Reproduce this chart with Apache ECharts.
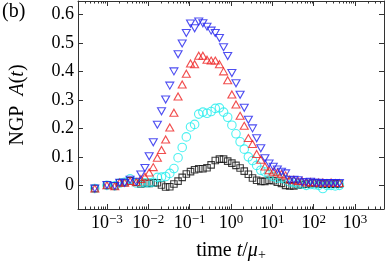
<!DOCTYPE html>
<html><head><meta charset="utf-8">
<script src="https://cdn.jsdelivr.net/npm/echarts@6/dist/echarts.min.js"></script>
<style>html,body{margin:0;padding:0;background:#fff}#c{width:387px;height:267px}</style>
</head><body><div id="c"></div>
<script>
const times = [0.00051, 0.001, 0.00155, 0.00204, 0.00269, 0.00363, 0.00513, 0.0066, 0.0083, 0.0105, 0.0132, 0.0166, 0.0209, 0.0263, 0.0331, 0.0417, 0.0525, 0.0661, 0.0832, 0.105, 0.132, 0.166, 0.209, 0.263, 0.331, 0.417, 0.525, 0.661, 0.832, 1.05, 1.32, 1.66, 2.09, 2.63, 3.31, 4.17, 5.25, 6.61, 8.32, 10.5, 13.2, 16.6, 20.9, 26.3, 33.1, 41.7, 52.5, 66.1, 83.2, 105, 132, 166, 209, 263, 331, 417];
const blackSq = [-0.011, 0.001, -0.002, 0.009, 0.01, 0.016, 0.011, 0.005, 0.008, 0.007, 0.009, 0.009, 0.001, -0.006, -0.005, 0.005, 0.015, 0.028, 0.04, 0.048, 0.055, 0.058, 0.058, 0.062, 0.072, 0.087, 0.092, 0.092, 0.085, 0.078, 0.07, 0.061, 0.05, 0.039, 0.026, 0.018, 0.014, 0.014, 0.018, 0.016, 0.011, 0.007, 0.0, -0.002, -0.002, 0.001, 0.003, 0.004, 0.006, 0.008, 0.005, 0.005, 0.004, 0.004, 0.005, 0.005];
const cyanCirc = [-0.011, 0.0, -0.002, 0.008, 0.011, 0.023, 0.008, 0.009, 0.009, 0.009, 0.011, 0.028, 0.029, 0.031, 0.042, 0.059, 0.097, 0.133, 0.17, 0.205, 0.214, 0.25, 0.257, 0.253, 0.259, 0.27, 0.272, 0.257, 0.239, 0.211, 0.181, 0.153, 0.127, 0.10, 0.087, 0.07, 0.053, 0.047, 0.037, 0.031, 0.025, 0.025, 0.02, 0.012, 0.01, 0.005, 0.005, 0.0, 0.003, 0.002, 0.0, -0.011, 0.0, 0.0, -0.002, 0.0];
const redUp = [-0.011, 0.0, -0.003, 0.01, 0.009, 0.015, 0.011, 0.022, 0.03, 0.045, 0.064, 0.097, 0.124, 0.161, 0.203, 0.255, 0.312, 0.354, 0.392, 0.428, 0.425, 0.455, 0.455, 0.441, 0.438, 0.438, 0.425, 0.40, 0.369, 0.319, 0.284, 0.244, 0.209, 0.166, 0.145, 0.11, 0.09, 0.066, 0.053, 0.048, 0.045, 0.04, 0.035, 0.02, 0.02, 0.015, 0.015, 0.01, 0.012, 0.01, 0.01, 0.01, 0.008, 0.01, 0.008, 0.008];
const blueDown = [-0.011, 0.001, -0.002, 0.009, 0.009, 0.02, 0.013, 0.038, 0.061, 0.102, 0.151, 0.213, 0.26, 0.301, 0.35, 0.40, 0.46, 0.498, 0.535, 0.568, 0.551, 0.575, 0.569, 0.557, 0.543, 0.535, 0.517, 0.485, 0.454, 0.394, 0.358, 0.318, 0.272, 0.23, 0.20, 0.165, 0.13, 0.095, 0.077, 0.065, 0.056, 0.048, 0.042, 0.018, 0.02, 0.018, 0.011, 0.011, 0.013, 0.009, 0.009, 0.008, 0.008, 0.008, 0.008, 0.008];
const yTickLabels = ['0', '0.1', '0.2', '0.3', '0.4', '0.5', '0.6'];
const xTickExponents = [-3, -2, -1, 0, 1, 2, 3];

const X_MIN = 2e-4, X_MAX = 5e3, Y_MIN = -0.083, Y_MAX = 0.647;
const FONT = 'Liberation Serif';
const AX = '#333';
const FS = 18, FN = 20;

const minorTicks = [];
for (let e = -4; e <= 3; e++) {
  for (let m = 2; m <= 9; m++) {
    const v = m * Math.pow(10, e);
    if (v > X_MIN && v < X_MAX) minorTicks.push([v, 0]);
  }
}

function pairs(arr) { return times.map((t, i) => [t, arr[i]]); }
function mk(name, data, symbol, color, size, rot) {
  return {
    name, type: 'scatter', data: pairs(data), symbol, symbolSize: size, symbolRotate: rot || 0,
    itemStyle: { color: 'rgba(255,255,255,0)', borderColor: color, borderWidth: 1.1 },
    silent: true, z: 3
  };
}

const chart = echarts.init(document.getElementById('c'), null, { renderer: 'canvas' });
const xFmt = v => {
  const e = Math.round(Math.log10(v));
  if (Math.abs(Math.log10(v) - e) > 1e-6 || xTickExponents.indexOf(e) < 0) return '';
  return '{b|10}{s|' + (e < 0 ? '\u2212' + (-e) : e) + '}';
};
const yFmt = v => {
  const k = Math.round(v * 10);
  if (Math.abs(v * 10 - k) > 1e-6 || k < 0 || k >= yTickLabels.length) return '';
  return yTickLabels[k];
};
const axLine = { show: true, onZero: false, lineStyle: { color: AX, width: 1 } };
chart.setOption({
  animation: false,
  backgroundColor: '#fff',
  grid: { left: 71, right: 3, top: 1, bottom: 46, containLabel: false },
  graphic: [{ type: 'text', left: 2, top: 2, style: { text: '(b)', font: FN + 'px "' + FONT + '"', fill: '#000' } }],
  xAxis: [
    { type: 'log', logBase: 10, min: X_MIN, max: X_MAX, splitNumber: 8, position: 'bottom',
      axisLine: axLine, splitLine: { show: false },
      axisTick: { inside: true, length: 5, lineStyle: { color: AX } },
      axisLabel: { formatter: xFmt, margin: 4, showMinLabel: false, showMaxLabel: false,
        rich: { b: { fontFamily: FONT, fontSize: FS, color: '#000', lineHeight: 20 },
                s: { fontFamily: FONT, fontSize: 13, color: '#000', lineHeight: 7, verticalAlign: 'top' } } },
      name: '{r|time }{i|t}{r|/}{i|\u03bc}{u|+}', nameLocation: 'middle', nameGap: 31,
      nameTextStyle: { rich: { r: { fontFamily: FONT, fontSize: FN, color: '#000', lineHeight: 22 },
        i: { fontFamily: FONT, fontSize: FN, fontStyle: 'italic', color: '#000', lineHeight: 22 },
        u: { fontFamily: FONT, fontSize: 14, color: '#000', lineHeight: 10, verticalAlign: 'bottom' } } } },
    { type: 'log', logBase: 10, min: X_MIN, max: X_MAX, splitNumber: 8, position: 'top',
      axisLine: axLine, splitLine: { show: false },
      axisTick: { inside: true, length: 5, lineStyle: { color: AX } }, axisLabel: { show: false } }
  ],
  yAxis: [
    { type: 'value', min: Y_MIN, max: Y_MAX, splitNumber: 5, position: 'left',
      axisLine: axLine, splitLine: { show: false },
      axisTick: { inside: true, length: 5, lineStyle: { color: AX } },
      axisLabel: { formatter: yFmt, margin: 4, fontFamily: FONT, fontSize: FS, color: '#000', showMinLabel: false, showMaxLabel: false },
      name: '{r|NGP\u2002}{i|A}{r|(}{i|t}{r|)}', nameLocation: 'middle', nameGap: 50,
      nameTextStyle: { rich: { r: { fontFamily: FONT, fontSize: FN, color: '#000' },
        i: { fontFamily: FONT, fontSize: FN, fontStyle: 'italic', color: '#000' } } } },
    { type: 'value', min: Y_MIN, max: Y_MAX, splitNumber: 5, position: 'right',
      axisLine: axLine, splitLine: { show: false },
      axisTick: { inside: true, length: 5, lineStyle: { color: AX } }, axisLabel: { show: false } }
  ],
  series: [
    { type: 'custom', silent: true, data: minorTicks, z: 2,
      renderItem: (params, api) => {
        const x = api.value(0);
        const pb = api.coord([x, Y_MIN]);
        const pt = api.coord([x, Y_MAX]);
        const px = Math.round(pb[0]) + 0.5;
        return { type: 'group', children: [
          { type: 'line', shape: { x1: px, y1: pb[1], x2: px, y2: pb[1] - 2.5 }, style: { stroke: AX, lineWidth: 1 } },
          { type: 'line', shape: { x1: px, y1: pt[1], x2: px, y2: pt[1] + 2.5 }, style: { stroke: AX, lineWidth: 1 } }
        ] };
      } },
    mk('black', blackSq, 'rect', '#111111', 6.5),
    mk('cyan', cyanCirc, 'circle', '#22eeee', 8.5),
    mk('red', redUp, 'triangle', '#ee2222', [8, 7]),
    mk('blue', blueDown, 'triangle', '#2222ee', [8, 7], 180)
  ]
});
</script></body></html>
